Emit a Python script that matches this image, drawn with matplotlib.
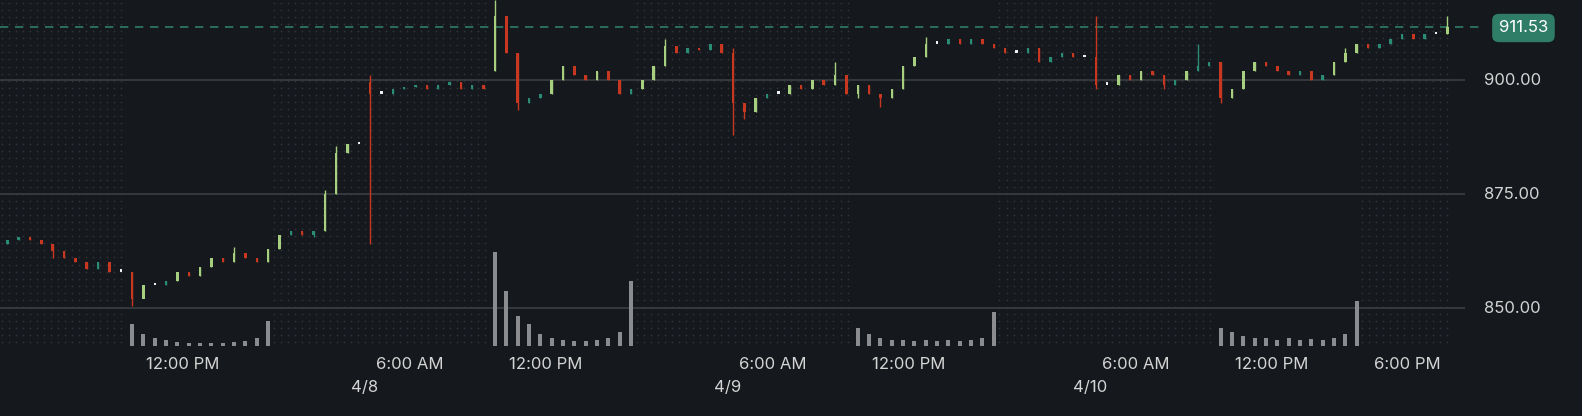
import numpy as np
import matplotlib.pyplot as plt

plt.rcParams['font.family'] = ['Inter', 'DejaVu Sans']

# 30-minute bars, 4/7 04:00 -> 4/10 20:00 (32 bars per day)
closes = [
    865, 865.5, 865, 864, 862.5, 861, 860, 858.5, 860, 858, 858, 852, 855, 855, 856, 858,
    857, 859, 861, 860, 862, 861, 860, 863, 866, 867, 866, 867, 875, 884, 886, 886,
    897, 897, 898, 898.5, 899, 898, 899, 899.5, 898, 899, 898, 914, 906, 895, 896, 897,
    900, 903, 901, 900, 902, 900, 897, 898, 900, 903, 907.5, 906, 907, 906.5, 908, 906,
    895, 893, 896, 897, 897, 899, 898, 900, 899, 901, 897, 899, 897, 896, 898, 903,
    905, 908, 908, 909, 908, 909, 908, 907, 906, 906, 907, 904, 905, 906, 905, 905,
    899, 899, 901, 900, 902, 901, 899, 900, 902, 903, 904, 896, 898, 902, 904, 903,
    902, 901, 902, 900, 901, 904, 906, 908, 907, 908, 909, 910, 909, 910, 910, 911.53,
]
first_open = 864
# session-open bars where open differs from previous close
gap_opens = {32: 899.5, 43: 902, 64: 906, 96: 905}
# notable wicks: bar index -> extreme price
wick_hi = {32: 901, 43: 917.5, 45: 906, 64: 907, 73: 904, 96: 914, 105: 908, 127: 914,
           20: 863.5, 28: 876, 29: 885.5, 58: 909, 81: 909.5, 118: 907}
wick_lo = {11: 850.5, 32: 864, 43: 902, 45: 893.5, 64: 888, 77: 894, 96: 898, 107: 895,
           4: 861, 12: 853, 27: 865.5, 65: 891.5, 75: 896, 102: 898}

# volume only during regular session (9:30-16:00), 13 bars per day
vol_starts = [11, 43, 75, 107]
volumes = [
    [22, 12, 8, 6, 4, 3, 3, 3, 3, 4, 5, 8, 25],
    [94, 55, 30, 22, 12, 8, 6, 5, 5, 6, 8, 14, 65],
    [18, 12, 8, 6, 6, 5, 6, 5, 6, 5, 6, 8, 34],
    [18, 14, 10, 8, 8, 6, 8, 6, 7, 6, 8, 12, 45],
]

price_ticks = [850, 875, 900]
time_ticks = [16, 36, 48, 68, 80, 100, 112, 124]
time_labels = ["12:00 PM", "6:00 AM", "12:00 PM", "6:00 AM", "12:00 PM", "6:00 AM", "12:00 PM", "6:00 PM"]
date_ticks = [32, 64, 96]
date_labels = ["4/8", "4/9", "4/10"]
off_hours = [(0, 11), (24, 43), (56, 75), (88, 107), (120, 128)]
last_price = 911.53

bg = "#15181c"
fig = plt.figure(figsize=(15.82, 4.16), dpi=100, facecolor=bg)
ax = fig.add_axes([0, 0.168, 0.926, 0.832])
ax.set_facecolor(bg)
ax.set_xlim(-0.65, 128.55)
ax.set_ylim(841.67, 917.54)
for s in ax.spines.values():
    s.set_visible(False)
ax.set_xticks([])
ax.set_yticks([])

# dotted background for extended hours
for a, b in off_hours:
    xs = np.arange(a - 0.5, b - 0.5, 0.62)
    ys = np.arange(842.5, 917.5, 1.55)
    gx, gy = np.meshgrid(xs, ys)
    ax.scatter(gx.ravel(), gy.ravel(), s=1.6, color="#30353b", linewidths=0, zorder=0)

for p in price_ticks:
    ax.axhline(p, color="#3b3e43", lw=1.2, zorder=1)
    fig.text(0.938, (p - 841.67) / (917.54 - 841.67) * 0.832 + 0.168, f"{p:.2f}",
             color="#d4d4d4", fontsize=12, va="center", ha="left")

# volume on a twin axis
vax = ax.twinx()
vax.set_ylim(0, 346)
vax.set_axis_off()
for start, vals in zip(vol_starts, volumes):
    vax.bar(np.arange(start, start + len(vals)), vals, width=0.35, color="#8a8c90", zorder=1)

# candles
opens = [first_open] + closes[:-1]
for i, c in enumerate(closes):
    o = gap_opens.get(i, opens[i])
    hi = wick_hi.get(i, max(o, c))
    lo = wick_lo.get(i, min(o, c))
    if abs(c - o) < 0.3:
        col = "#f0f0f0"
    elif c > o:
        col = "#a6d07f" if c - o > 1.5 else "#2a8c72"
    else:
        col = "#c8371f"
    ax.vlines(i, lo, hi, color=col, lw=1, zorder=3)
    ax.bar(i, max(abs(c - o), 0.5), bottom=min(o, c), width=0.22, color=col, zorder=3)

ax.axhline(last_price, color="#2f7d66", lw=1.2, ls=(0, (5, 4)), zorder=2, xmax=1.01, clip_on=False)
fig.text(0.963, 1 - 28 / 416, f"{last_price:.2f}", color="white", fontsize=12, va="center", ha="center",
         bbox=dict(boxstyle="round,pad=0.4", fc="#2f7d66", ec="none"))

for t, lab in zip(time_ticks, time_labels):
    ax.text(t - 0.5, 841.67 - 4.0, lab, color="#d4d4d4", fontsize=12, ha="center", va="center", clip_on=False)
for t, lab in zip(date_ticks, date_labels):
    ax.text(t - 0.5, 841.67 - 9.1, lab, color="#d4d4d4", fontsize=12, ha="center", va="center", clip_on=False)

fig.savefig("out.png", dpi=100, facecolor=bg)
